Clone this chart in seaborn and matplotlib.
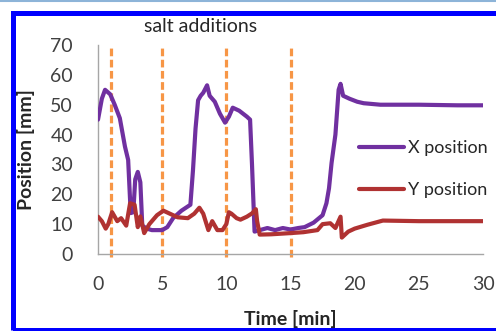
import numpy as np
import pandas as pd
import matplotlib
matplotlib.use("Agg")
import matplotlib.pyplot as plt
import seaborn as sns
from matplotlib.patches import Rectangle
from matplotlib.lines import Line2D

# ---- data ----
t_x = [0, 0.3, 0.55, 0.95, 1.3, 1.7, 2.1, 2.35, 2.5, 2.55, 2.75, 2.9, 3.1, 3.3, 3.45, 3.8,
       4.2, 5.0, 5.4, 5.85, 6.5, 7.2, 7.4, 7.6, 7.8, 8.0, 8.2, 8.5, 8.7, 8.9, 9.1, 9.5, 9.9,
       10.2, 10.5, 11.0, 11.6, 11.85, 12.0, 12.2, 12.6, 13.2, 13.8, 14.4, 15.0, 15.6, 16.1,
       16.8, 17.5, 17.8, 18.0, 18.2, 18.5, 18.75, 18.9, 19.1, 19.6, 20.2, 20.7, 22, 25, 28, 30]
x_pos = [45, 52, 55, 53.5, 50, 45.5, 36, 31.5, 18, 13.7, 14, 25, 27.5, 24, 9.5, 8.5,
         8, 8, 9, 12, 14.5, 16.5, 28, 42, 51.5, 53, 54, 56.5, 53, 52, 51, 47, 44,
         46, 49, 48, 46, 45, 30, 7.5, 8, 8.7, 8, 8.7, 8.2, 8.7, 9,
         10.5, 13, 17, 22, 30.5, 40, 55, 57, 53, 52, 51, 50.5, 50, 50, 49.8, 49.8]

t_y = [0, 0.3, 0.6, 0.8, 1.1, 1.5, 1.8, 2.2, 2.5, 2.85, 3.1, 3.3, 3.6, 4.0, 4.6, 5.1, 5.6,
       6.2, 7.0, 7.5, 7.9, 8.2, 8.6, 8.9, 9.3, 9.7, 10.0, 10.2, 10.4, 10.8, 11.1, 11.6, 12.0,
       12.3, 12.4, 12.6, 13.5, 15.0, 16.0, 17.1, 17.5, 18.1, 18.5, 18.9, 19.0, 19.5, 20.0,
       21.0, 22.2, 25, 28, 30]
y_pos = [12.5, 11, 8.5, 10, 14, 11, 12, 9.5, 17, 16.5, 9, 12.6, 7, 10, 13, 14.5, 13.5,
         12.3, 12, 13.5, 15.5, 13.5, 8, 11, 8, 8, 10, 14, 13.5, 12, 11.5, 12.5, 13.6,
         15, 11, 6.5, 6.6, 7, 7.3, 8, 10, 10.3, 8.7, 12.5, 5.5, 7.5, 8.5,
         9.8, 11.2, 11, 11, 11]

salt_times = [1, 5, 10, 15]
x_ticks = [0, 5, 10, 15, 20, 25, 30]
y_ticks = [0, 10, 20, 30, 40, 50, 60, 70]
series_labels = ["X position", "Y position"]

# ---- styling ----
sns.set_theme(style="white")
plt.rcParams['font.family'] = ['Lato', 'DejaVu Sans']

purple = "#7030A0"
red = "#B03232"
orange = "#F79646"
gray_txt = "#404040"
axis_gray = "#A6A6A6"
FS = 14

W, H = 496, 331
fig = plt.figure(figsize=(W / 100, H / 100), dpi=100)
fig.patch.set_facecolor("white")
ax = fig.add_axes([98 / W, 1 - 254 / H, (483 - 98) / W, (254 - 45) / H])

df = pd.concat([
    pd.DataFrame({"t": t_x, "v": x_pos, "s": series_labels[0]}),
    pd.DataFrame({"t": t_y, "v": y_pos, "s": series_labels[1]}),
])

for lab, col in zip(series_labels, [purple, red]):
    sub = df[df["s"] == lab]
    sns.lineplot(data=sub, x="t", y="v", ax=ax, color=col, lw=3.0,
                 estimator=None, sort=False, legend=False, zorder=3)

ax.vlines(salt_times, -0.9, 69.2, colors=orange, lw=2.3,
          linestyles=(0, (2.4, 1.1)), zorder=2, clip_on=False)

ax.set_xlim(0, 30)
ax.set_ylim(0, 70)
ax.set_xticks(x_ticks)
ax.set_yticks(y_ticks)
ax.tick_params(axis="both", which="both", length=5, width=1, color=axis_gray,
               labelsize=FS, labelcolor=gray_txt, direction="out")
ax.tick_params(axis="y", pad=13)
ax.tick_params(axis="x", pad=11)
sns.despine(ax=ax)
for sp in ["left", "bottom"]:
    ax.spines[sp].set_color(axis_gray)
    ax.spines[sp].set_linewidth(1)
ax.grid(False)

ax.set_xlabel("Time [min]", fontsize=FS, fontweight="bold", color="#262626", labelpad=12)
ax.set_ylabel("Position [mm]", fontsize=FS, fontweight="bold", color="#262626", labelpad=11)

fig.text(201 / W, 1 - 27 / H, "salt additions", fontsize=FS, color="#262626",
         ha="center", va="center")

handles = [Line2D([], [], color=purple, lw=3.0), Line2D([], [], color=red, lw=3.0)]
leg = ax.legend(handles, series_labels, loc="upper left",
                bbox_to_anchor=((352 - 98) / (483 - 98), (254 - 133) / (254 - 45)),
                frameon=False, fontsize=13, handlelength=2.5, handletextpad=0.2,
                labelspacing=1.45, borderaxespad=0)
for t in leg.get_texts():
    t.set_color("#262626")

# outer frame
lw_px = 5
fig.add_artist(Rectangle((12.5 / W, 1.5 / H), 1.2, (H - 12.5 - 1.5) / H,
                         transform=fig.transFigure, fill=False, edgecolor="#0000FF",
                         linewidth=lw_px * 0.72, clip_on=False))
fig.add_artist(Line2D([0, 1], [1 - 0.5 / H, 1 - 0.5 / H], transform=fig.transFigure,
                      color="#8DB4D8", lw=1.5))

fig.savefig("out.png", dpi=100)
